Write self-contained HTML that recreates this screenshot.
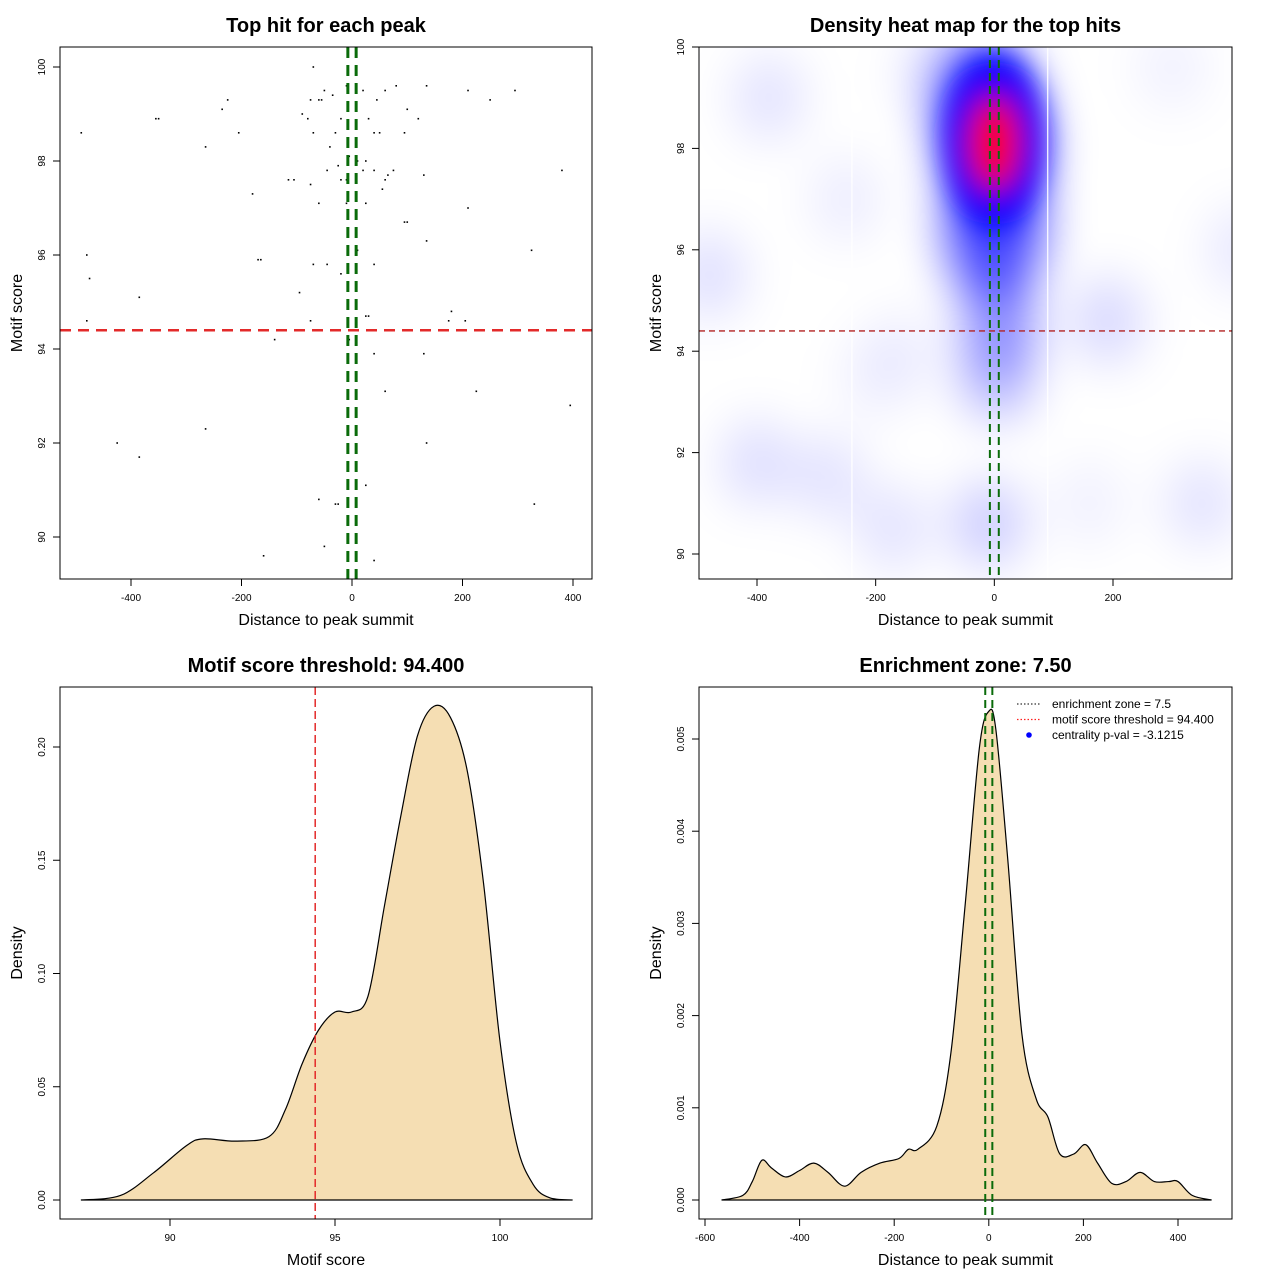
<!DOCTYPE html>
<html><head><meta charset="utf-8"><style>
html,body{margin:0;padding:0;background:#fff;}
svg{display:block;font-family:"Liberation Sans",sans-serif;}
</style></head><body>
<svg id="root" width="1280" height="1280" viewBox="0 0 1280 1280">
<defs>
<filter id="blur1" x="-50%" y="-50%" width="200%" height="200%"><feGaussianBlur stdDeviation="24"/></filter>
<filter id="blur2" x="-50%" y="-50%" width="200%" height="200%"><feGaussianBlur stdDeviation="14"/></filter>
<clipPath id="clip2"><rect x="699" y="47" width="533" height="532"/></clipPath>
</defs>
</svg>
<script>
// ---------- data ----------
const scatterX = [-490,-355,-350,-225,-235,-205,-265,-70,-50,-60,-55,-75,-35,-10,20,45,60,80,135,100,210,250,295,-90,-20,-80,-30,-70,-40,30,50,40,95,120,-5,10,25,-115,-105,-180,-45,-25,-10,20,40,60,75,-75,-20,55,65,130,380,-60,-10,25,95,100,135,210,-480,-170,-165,-70,-45,-20,10,40,325,-475,-385,-95,-480,-75,30,25,180,175,205,-140,-5,10,40,130,60,225,395,-265,-425,-385,135,25,-60,-30,-25,330,-160,-50,40];
const scatterY = [98.6,98.9,98.9,99.3,99.1,98.6,98.3,100,99.5,99.3,99.3,99.3,99.4,99.6,99.5,99.3,99.5,99.6,99.6,99.1,99.5,99.3,99.5,99,98.9,98.9,98.6,98.6,98.3,98.9,98.6,98.6,98.6,98.9,98.1,98,98,97.6,97.6,97.3,97.8,97.9,97.6,97.8,97.8,97.6,97.8,97.5,97.6,97.4,97.7,97.7,97.8,97.1,97.1,97.1,96.7,96.7,96.3,97,96,95.9,95.9,95.8,95.8,95.6,96.1,95.8,96.1,95.5,95.1,95.2,94.6,94.6,94.7,94.7,94.8,94.6,94.6,94.2,94.2,94.4,93.9,93.9,93.1,93.1,92.8,92.3,92,91.7,92,91.1,90.8,90.7,90.7,90.7,89.6,89.8,89.5];
const threshold = 94.4;
const zone = 7.5;
const scoreDensX = [87.3,88.5,89.5,90.5,91,92,93,93.5,94,94.5,95,95.5,96,96.5,97,97.5,98,98.5,99,99.5,100,100.5,101,101.5,102.2];
const scoreDensY = [0,0.002,0.012,0.024,0.027,0.026,0.028,0.04,0.06,0.075,0.083,0.083,0.09,0.13,0.17,0.205,0.218,0.213,0.19,0.14,0.07,0.025,0.007,0.001,0];
const distDensX = [-565,-520,-500,-480,-460,-430,-400,-370,-340,-305,-270,-230,-190,-170,-150,-110,-80,-50,-20,0,15,40,70,100,125,150,180,205,230,260,290,320,350,380,400,430,471];
const distDensY = [0,0.00005,0.0002,0.00043,0.00035,0.00025,0.00032,0.0004,0.0003,0.00015,0.0003,0.0004,0.00045,0.00055,0.00055,0.0008,0.0016,0.0032,0.0049,0.0053,0.0051,0.0037,0.0018,0.0011,0.0009,0.0005,0.0005,0.0006,0.0004,0.00018,0.0002,0.0003,0.0002,0.0002,0.0002,0.00005,0];
const p1XTicks = [-400,-200,0,200,400];
const p1YTicks = [90,92,94,96,98,100];
const p2XTicks = [-400,-200,0,200];
const p2YTicks = [90,92,94,96,98,100];
const p3XTicks = [90,95,100];
const p3YTicks = [0,0.05,0.10,0.15,0.20];
const p3YLabels = ["0.00","0.05","0.10","0.15","0.20"];
const p4XTicks = [-600,-400,-200,0,200,400];
const p4YTicks = [0,0.001,0.002,0.003,0.004,0.005];
const p4YLabels = ["0.000","0.001","0.002","0.003","0.004","0.005"];
// heatmap blobs: [x, y, weight]
const blobX = [0,0,10,-20,5,-400,-280,-480,-380,-250,-170,-10,190,300,420,160,-100,350,-200,-150];
const blobY = [98,96.5,94.5,98.8,93.5,91.8,91.5,95.5,99,97,90.5,90.6,94.6,99.6,96,91,99.5,91,93.5,94];
const blobW = [1,0.8,0.45,0.6,0.3,0.14,0.12,0.14,0.12,0.08,0.12,0.22,0.17,0.06,0.1,0.06,0.1,0.12,0.06,0.06];

// ---------- helpers ----------
const NS="http://www.w3.org/2000/svg";
const root=document.getElementById('root');
function mk(tag,attrs,parent){const e=document.createElementNS(NS,tag);for(const k in attrs)e.setAttribute(k,attrs[k]);(parent||root).appendChild(e);return e;}
function lin(d0,d1,p0,p1){return v=>p0+(v-d0)*(p1-p0)/(d1-d0);}
function smoothPath(pts){let d=`M${pts[0][0]},${pts[0][1]}`;for(let i=0;i<pts.length-1;i++){const p0=pts[i-1]||pts[i],p1=pts[i],p2=pts[i+1],p3=pts[i+2]||p2;const c1=[p1[0]+(p2[0]-p0[0])/6,p1[1]+(p2[1]-p0[1])/6],c2=[p2[0]-(p3[0]-p1[0])/6,p2[1]-(p3[1]-p1[1])/6];d+=`C${c1[0]},${c1[1]} ${c2[0]},${c2[1]} ${p2[0]},${p2[1]}`;}return d;}
function axes(g,box,xs,xt,xl,ys,yt,yl,title,xlab){
  const [L,T,R,B]=box;
  const f=mk('rect',{x:L,y:T,width:R-L,height:B-T,fill:'none',stroke:'#000','stroke-width':1},g);
  
  const xa=mk('g',{},g);
  mk('line',{x1:xs(xt[0]),x2:xs(xt[xt.length-1]),y1:B,y2:B,stroke:'#000'},xa);
  xt.forEach((v,i)=>{const x=xs(v);mk('line',{x1:x,x2:x,y1:B,y2:B+7,stroke:'#000'},xa);
    const t=mk('text',{x:x,y:B+22,'font-size':10,'text-anchor':'middle'},xa);t.textContent=xl[i];
    });
  const ya=mk('g',{},g);
  mk('line',{x1:L,x2:L,y1:ys(yt[0]),y2:ys(yt[yt.length-1]),stroke:'#000'},ya);
  yt.forEach((v,i)=>{const y=ys(v);mk('line',{x1:L,x2:L-7,y1:y,y2:y,stroke:'#000'},ya);
    const t=mk('text',{x:L-15,y:y,'font-size':10,'text-anchor':'middle',transform:`rotate(-90 ${L-15} ${y})`},ya);t.textContent=yl[i];
    });
  const tt=mk('text',{x:(L+R)/2,y:T-15,'font-size':20,'font-weight':'bold','text-anchor':'middle'},g);tt.textContent=title;
  
  const xt2=mk('text',{x:(L+R)/2,y:B+46,'font-size':16,'text-anchor':'middle'},g);xt2.textContent=xlab;
  
  const yy=(T+B)/2;
  const yt2=mk('text',{x:L-38,y:yy,'font-size':16,'text-anchor':'middle',transform:`rotate(-90 ${L-38} ${yy})`},g);yt2.textContent=yl.ylab;
  
}

// ---------- panel 1 ----------
{
  const g=mk('g',{});
  const xs=lin(-400,400,131,573), ys=lin(90,100,537,67);
  const yl=p1YTicks.map(String);yl.ylab='Motif score';
  const dots=mk('g',{},g);
  scatterX.forEach((x,i)=>{const c=mk('rect',{x:xs(x)-0.8,y:ys(scatterY[i])-0.8,width:1.6,height:1.6,fill:'#000'},dots);
    });
  const h=mk('line',{x1:60,x2:592,y1:ys(threshold),y2:ys(threshold),stroke:'#e32a2a','stroke-width':2.5,'stroke-dasharray':'11,7'},g);
  
  [-zone,zone].forEach(z=>{const l=mk('line',{x1:xs(z),x2:xs(z),y1:47,y2:579,stroke:'#0a6b0a','stroke-width':3,'stroke-dasharray':'11,7'},g);
    });
  axes(g,[60,47,592,579],xs,p1XTicks,p1XTicks.map(String),ys,p1YTicks,yl,'Top hit for each peak','Distance to peak summit');
}
// ---------- panel 2 ----------
{
  const g=mk('g',{});
  const xs=lin(-400,200,757,1113), ys=lin(90,100,554,47);
  const hm=mk('g',{'clip-path':'url(#clip2)'},g);
  mk('rect',{x:699,y:47,width:533,height:532,fill:'#fff'},hm);
  const bl=mk('g',{filter:'url(#blur1)'},hm);
  blobX.forEach((x,i)=>{const w=blobW[i];const big=w>0.5;
    const e=mk('ellipse',{cx:xs(x),cy:ys(blobY[i]),rx:big?48:36,ry:big?80:44,fill:'#0000ff','fill-opacity':Math.min(1,w*0.9)},bl);
    });
  const core=mk('g',{filter:'url(#blur2)'},hm);
  const cx=xs(blobX[0]),cy=ys(blobY[0]);
  mk('ellipse',{cx:cx,cy:cy-10,rx:48,ry:85,fill:'#0000ff'},core);
  mk('ellipse',{cx:cx,cy:cy-5,rx:30,ry:52,fill:'#a000a0'},core);
  const r=mk('ellipse',{cx:cx,cy:cy-5,rx:20,ry:40,fill:'#ff0000'},core);
  
  [-240,90].forEach(x=>mk('line',{x1:xs(x),x2:xs(x),y1:47,y2:579,stroke:'#fff','stroke-width':1.2},hm));
  const h=mk('line',{x1:699,x2:1232,y1:ys(threshold),y2:ys(threshold),stroke:'#b22222','stroke-width':1.3,'stroke-dasharray':'6,4'},g);
  
  [-zone,zone].forEach(z=>{const l=mk('line',{x1:xs(z),x2:xs(z),y1:47,y2:579,stroke:'#0a6b0a','stroke-width':2,'stroke-dasharray':'8,5'},g);
    });
  const yl=p2YTicks.map(String);yl.ylab='Motif score';
  axes(g,[699,47,1232,579],xs,p2XTicks,p2XTicks.map(String),ys,p2YTicks,yl,'Density heat map for the top hits','Distance to peak summit');
}
// ---------- panel 3 ----------
{
  const g=mk('g',{});
  const xs=lin(90,100,170,500), ys=lin(0,0.2,1200,747);
  const pts=scoreDensX.map((x,i)=>[xs(x),ys(scoreDensY[i])]);
  const a=mk('path',{d:smoothPath(pts)+'Z',fill:'#f5deb3',stroke:'#000','stroke-width':1.2},g);
  
  const l=mk('line',{x1:xs(threshold),x2:xs(threshold),y1:687,y2:1219,stroke:'#e32a2a','stroke-width':1.5,'stroke-dasharray':'8,4'},g);
  
  const yl=p3YLabels.slice();yl.ylab='Density';
  axes(g,[60,687,592,1219],xs,p3XTicks,p3XTicks.map(String),ys,p3YTicks,yl,'Motif score threshold: 94.400','Motif score');
}
// ---------- panel 4 ----------
{
  const g=mk('g',{});
  const xs=lin(-600,400,705,1178), ys=lin(0,0.005,1200,739);
  const pts=distDensX.map((x,i)=>[xs(x),ys(distDensY[i])]);
  const a=mk('path',{d:smoothPath(pts)+'Z',fill:'#f5deb3',stroke:'#000','stroke-width':1.2},g);
  
  [-zone,zone].forEach(z=>{const l=mk('line',{x1:xs(z),x2:xs(z),y1:687,y2:1219,stroke:'#0a6b0a','stroke-width':2,'stroke-dasharray':'8,5'},g);
    });
  const yl=p4YLabels.slice();yl.ylab='Density';
  axes(g,[699,687,1232,1219],xs,p4XTicks,p4XTicks.map(String),ys,p4YTicks,yl,'Enrichment zone: 7.50','Distance to peak summit');
  const lg=mk('g',{},g);
  const items=[['enrichment zone = 7.5','#333','dot'],['motif score threshold = 94.400','#ff2020','dot'],['centrality p-val = -3.1215','#0000ff','pt']];
  items.forEach((it,i)=>{const y=704+i*15.5;
    const e=mk('g',{},lg);
    if(it[2]==='dot')mk('line',{x1:1017,x2:1041,y1:y,y2:y,stroke:it[1],'stroke-width':1.2,'stroke-dasharray':'1.5,2'},e);
    else mk('circle',{cx:1029,cy:y,r:2.8,fill:it[1]},e);
    const t=mk('text',{x:1052,y:y+4,'font-size':12},e);t.textContent=it[0];});
}
</script>
</body></html>
